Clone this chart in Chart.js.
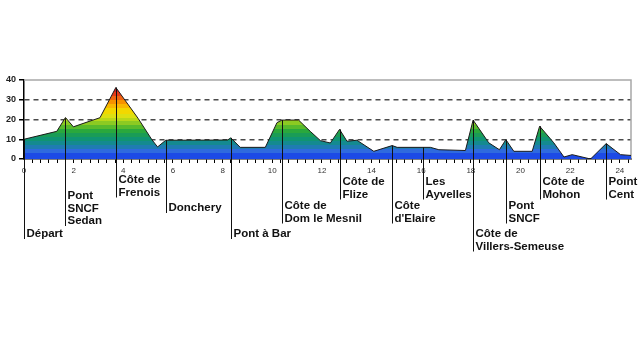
<!DOCTYPE html>
<html>
<head>
<meta charset="utf-8">
<script src="https://cdn.jsdelivr.net/npm/chart.js@4.4.0/dist/chart.umd.min.js"></script>
<style>
html,body{margin:0;padding:0;background:#fff;}
#wrap{width:640px;height:352px;position:relative;}
</style>
</head>
<body>
<div id="wrap"><canvas id="c" width="640" height="352"></canvas></div>
<script>
// ---- data ----
const profileKm  = [0, 1.32, 1.67, 1.99, 2.66, 3.06, 3.70, 4.6, 5.15, 5.38, 5.71, 8.2, 8.33, 8.71, 9.72, 10.19, 10.39, 11.06, 11.53, 11.94, 12.34, 12.71, 13.01, 13.41, 14.09, 14.83, 15.03, 16.37, 16.71, 17.78, 18.09, 18.72, 19.15, 19.41, 19.73, 20.47, 20.77, 21.34, 21.75, 22.08, 22.82, 23.45, 24.03, 24.45];
const profileAlt = [10, 14, 21, 16.3, 19.2, 20.9, 36.2, 20.5, 9.8, 6.1, 9.5, 9.6, 10.7, 5.9, 5.9, 18.4, 19.7, 19.7, 14, 9.3, 8.1, 15, 9, 9.5, 3.9, 6.8, 5.9, 5.9, 4.7, 4.3, 19.7, 8.2, 4.7, 9.8, 3.9, 3.9, 16.6, 8.2, 1.0, 2.2, 0, 7.8, 2.2, 1.8];
const yTickValues = [0, 10, 20, 30, 40];
const xLabelValues = [0, 2, 4, 6, 8, 10, 12, 14, 16, 18, 20, 22, 24];
const markerKm = [0, 1.65, 3.70, 5.71, 8.33, 10.39, 12.71, 14.83, 16.08, 18.09, 19.41, 20.77, 23.45];
const markerNames = [
  ["Départ"],
  ["Pont", "SNCF", "Sedan"],
  ["Côte de", "Frenois"],
  ["Donchery"],
  ["Pont à Bar"],
  ["Côte de", "Dom le Mesnil"],
  ["Côte de", "Flize"],
  ["Côte", "d'Elaire"],
  ["Les", "Ayvelles"],
  ["Côte de", "Villers-Semeuse"],
  ["Pont", "SNCF"],
  ["Côte de", "Mohon"],
  ["Point", "Cent"]
];
// ---- layout (first text line centre, px) ----
const markerTextTop = [234, 196, 180, 208, 234, 206, 182, 206, 182, 234, 206, 182, 182];

const FONT = "'Liberation Sans', Arial, sans-serif";

const bands = [
  [0, 3, '#1c4ae6'], [3, 5, '#2f6ade'], [5, 7, '#1f7cb2'], [7, 9, '#148a90'],
  [9, 11, '#109472'], [11, 13, '#1a9c56'], [13, 15, '#2aa83c'], [15, 17, '#58ba2c'],
  [17, 19, '#8cca22'], [19, 21, '#b8d81a'], [21, 23, '#dce012'], [23, 26, '#f2d800'],
  [26, 28, '#f8b800'], [28, 30, '#f69200'], [30, 32, '#f06410'], [32, 34, '#e63a18'], [34, 40, '#d81e1e']
];

function altAt(km) {
  for (let i = 0; i < profileKm.length - 1; i++) {
    if (km >= profileKm[i] && km <= profileKm[i + 1]) {
      const t = (km - profileKm[i]) / (profileKm[i + 1] - profileKm[i]);
      return profileAlt[i] + t * (profileAlt[i + 1] - profileAlt[i]);
    }
  }
  return profileAlt[profileAlt.length - 1];
}

const framePlugin = {
  id: 'frame',
  beforeDatasetsDraw(chart) {
    const {ctx, chartArea: a} = chart;
    ctx.save();
    ctx.strokeStyle = '#a8a8a8';
    ctx.lineWidth = 1.5;
    ctx.beginPath();
    ctx.moveTo(a.left, a.top);
    ctx.lineTo(a.right, a.top);
    ctx.lineTo(a.right, a.bottom);
    ctx.stroke();
    ctx.restore();
  }
};

const markerPlugin = {
  id: 'markers',
  afterDraw(chart) {
    const {ctx} = chart;
    const xs = chart.scales.x, ys = chart.scales.y;
    ctx.save();
    ctx.font = "bold 11.5px " + FONT;
    ctx.textBaseline = 'middle';
    ctx.fillStyle = '#111';
    ctx.strokeStyle = '#111';
    ctx.lineWidth = 1;
    markerKm.forEach((km, i) => {
      const px = Math.round(xs.getPixelForValue(km)) + 0.5;
      const top = ys.getPixelForValue(altAt(km));
      const lines = markerNames[i];
      const lh = 12.5;
      const first = markerTextTop[i];
      const bottom = first + (lines.length - 1) * lh + 5;
      ctx.beginPath();
      ctx.moveTo(px, top);
      ctx.lineTo(px, bottom);
      ctx.stroke();
      lines.forEach((t, j) => ctx.fillText(t, px + 2, first + j * lh));
    });
    ctx.restore();
  }
};

new Chart(document.getElementById('c'), {
  type: 'line',
  data: {
    datasets: [{
      data: profileKm.map((k, i) => ({x: k, y: profileAlt[i]})),
      fill: 'origin',
      borderColor: '#1a1a1a',
      borderWidth: 1,
      pointRadius: 0,
      tension: 0,
      backgroundColor: (context) => {
        const chart = context.chart;
        const {ctx, chartArea, scales} = chart;
        if (!chartArea || !scales.y) return 'rgba(0,0,0,0)';
        const y0 = scales.y.getPixelForValue(0), y1 = scales.y.getPixelForValue(40);
        const g = ctx.createLinearGradient(0, y0, 0, y1);
        bands.forEach(([a, b, col]) => {
          g.addColorStop(a / 40, col);
          g.addColorStop(Math.min(b / 40, 1), col);
        });
        return g;
      }
    }]
  },
  options: {
    responsive: false,
    animation: false,
    devicePixelRatio: 1,
    layout: {padding: {top: 80, right: 9, left: 0, bottom: 0}},
    plugins: {legend: {display: false}, tooltip: {enabled: false}},
    scales: {
      x: {
        type: 'linear',
        min: 0,
        max: 24.45,
        afterFit(scale) { scale.height = 193; },
        afterBuildTicks(scale) {
          const t = [];
          for (let k = 0; k / 3 <= 24.45; k++) t.push({value: k / 3});
          scale.ticks = t;
        },
        border: {display: true, color: '#000', width: 1.5},
        grid: {drawOnChartArea: false, drawTicks: true, tickLength: 4, tickColor: '#000', tickWidth: 1},
        ticks: {
          autoSkip: false,
          maxRotation: 0,
          padding: 3,
          color: '#333',
          font: {family: FONT, size: 8},
          callback(v) {
            const r = Math.round(v);
            return (Math.abs(v - r) < 1e-6 && xLabelValues.includes(r)) ? String(r) : '';
          }
        }
      },
      y: {
        min: 0,
        max: 40,
        afterFit(scale) { scale.width = 24; },
        afterBuildTicks(scale) { scale.ticks = yTickValues.map(v => ({value: v})); },
        border: {display: true, color: '#000', width: 1.5, dash: [5, 4]},
        grid: {
          drawOnChartArea: true,
          drawTicks: true,
          tickLength: 5,
          tickColor: '#000',
          lineWidth: 1.5,
          color: (c) => (c.tick && (c.tick.value === 40 || c.tick.value === 0)) ? 'rgba(0,0,0,0)' : '#4a4a4a'
        },
        ticks: {
          padding: 3,
          color: '#222',
          font: {family: FONT, size: 9, weight: 'bold'}
        }
      }
    }
  },
  plugins: [framePlugin, markerPlugin]
});
</script>
</body>
</html>
